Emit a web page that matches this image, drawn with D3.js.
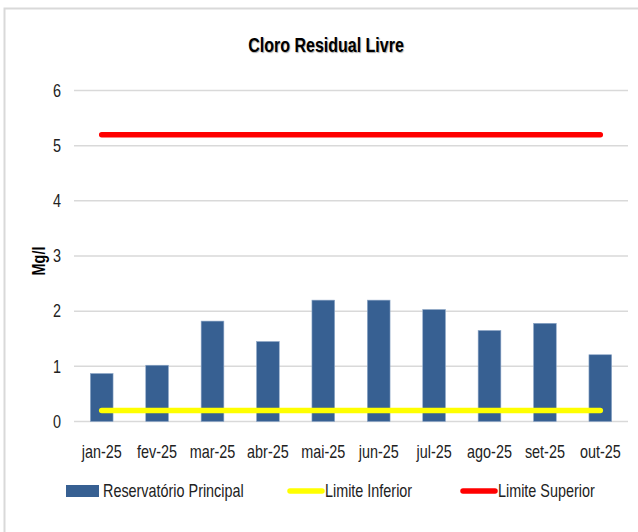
<!DOCTYPE html>
<html>
<head>
<meta charset="utf-8">
<script src="https://cdn.jsdelivr.net/npm/d3@7"></script>
<style>
  body { margin: 0; background: #fff; }
  svg text { font-family: "Liberation Sans Narrow", "Liberation Sans", sans-serif; }
</style>
</head>
<body>
<svg id="chart" width="638" height="532"></svg>
<script>
const months = ["jan-25", "fev-25", "mar-25", "abr-25", "mai-25", "jun-25", "jul-25", "ago-25", "set-25", "out-25"];
const reservatorio = [0.87, 1.02, 1.82, 1.45, 2.2, 2.2, 2.03, 1.65, 1.78, 1.21];
const limiteInferior = [0.2, 0.2, 0.2, 0.2, 0.2, 0.2, 0.2, 0.2, 0.2, 0.2];
const limiteSuperior = [5.2, 5.2, 5.2, 5.2, 5.2, 5.2, 5.2, 5.2, 5.2, 5.2];
const yTicks = [0, 1, 2, 3, 4, 5, 6];

const svg = d3.select("#chart");
const narrow = 0.8; // squeeze text horizontally, narrow font is missing

// outer frame
svg.append("rect")
  .attr("x", 4.5).attr("y", 8.5)
  .attr("width", 640).attr("height", 530)
  .attr("fill", "#fff")
  .attr("stroke", "#d9d9d9").attr("stroke-width", 2);

const x = d3.scaleBand().domain(months).range([74, 628]).paddingInner(0.59).paddingOuter(0.295);
const xc = d3.scalePoint().domain(months).range([74, 628]).padding(0.5);
const y = d3.scaleLinear().domain([0, 6]).range([421.5, 90.5]);

// gridlines
svg.append("g")
  .selectAll("line")
  .data(yTicks)
  .join("line")
  .attr("x1", 74).attr("x2", 628)
  .attr("y1", d => y(d)).attr("y2", d => y(d))
  .attr("stroke", "#d9d9d9").attr("stroke-width", 1.5);

// y tick labels
svg.append("g")
  .selectAll("text")
  .data(yTicks)
  .join("text")
  .attr("transform", d => `translate(61,${y(d)}) scale(${narrow},1)`)
  .attr("dy", "0.35em")
  .attr("text-anchor", "end")
  .attr("font-size", 18)
  .attr("fill", "#222")
  .text(d => d);

// bars
svg.append("g")
  .selectAll("rect")
  .data(reservatorio)
  .join("rect")
  .attr("x", (d, i) => x(months[i]))
  .attr("y", d => y(d))
  .attr("width", x.bandwidth())
  .attr("height", d => y(0) - y(d))
  .attr("fill", "#376092")
  .attr("stroke", "#8fa8c8").attr("stroke-width", 0.6);

const line = d3.line().x((d, i) => xc(months[i])).y(d => y(d));

svg.append("path")
  .datum(limiteInferior)
  .attr("d", line)
  .attr("fill", "none")
  .attr("stroke", "#ffff00").attr("stroke-width", 5.5)
  .attr("stroke-linecap", "round");

svg.append("path")
  .datum(limiteSuperior)
  .attr("d", line)
  .attr("fill", "none")
  .attr("stroke", "#ff0000").attr("stroke-width", 5.5)
  .attr("stroke-linecap", "round");

// x labels
svg.append("g")
  .selectAll("text")
  .data(months)
  .join("text")
  .attr("transform", d => `translate(${xc(d)},452) scale(${narrow},1)`)
  .attr("dy", "0.35em")
  .attr("text-anchor", "middle")
  .attr("font-size", 18)
  .attr("fill", "#222")
  .text(d => d);

// title
svg.append("text")
  .attr("transform", `translate(326,52) scale(${narrow},1)`)
  .attr("text-anchor", "middle")
  .attr("font-size", 20)
  .attr("font-weight", "bold")
  .attr("fill", "#000")
  .style("text-shadow", "1px 1px 1px #aaa")
  .text("Cloro Residual Livre");

// y axis title
svg.append("text")
  .attr("transform", `translate(45,261) rotate(-90) scale(${narrow},1)`)
  .attr("text-anchor", "middle")
  .attr("font-size", 18)
  .attr("font-weight", "bold")
  .attr("fill", "#000")
  .text("Mg/l");

// legend
const legend = [
  { name: "Reservatório Principal", color: "#376092", type: "rect", x: 66 },
  { name: "Limite Inferior", color: "#ffff00", type: "line", x: 288 },
  { name: "Limite Superior", color: "#ff0000", type: "line", x: 461 }
];
const lg = svg.append("g").selectAll("g").data(legend).join("g")
  .attr("transform", d => `translate(${d.x},491)`);
lg.filter(d => d.type === "rect").append("rect")
  .attr("x", 0).attr("y", -6).attr("width", 33).attr("height", 12)
  .attr("fill", d => d.color);
lg.filter(d => d.type === "line").append("line")
  .attr("x1", 2).attr("x2", 34).attr("y1", 0).attr("y2", 0)
  .attr("stroke", d => d.color).attr("stroke-width", 5.5)
  .attr("stroke-linecap", "round");
lg.append("text")
  .attr("transform", `translate(37,0) scale(${narrow},1)`)
  .attr("dy", "0.35em")
  .attr("font-size", 18)
  .attr("fill", "#222")
  .text(d => d.name);
</script>
</body>
</html>
